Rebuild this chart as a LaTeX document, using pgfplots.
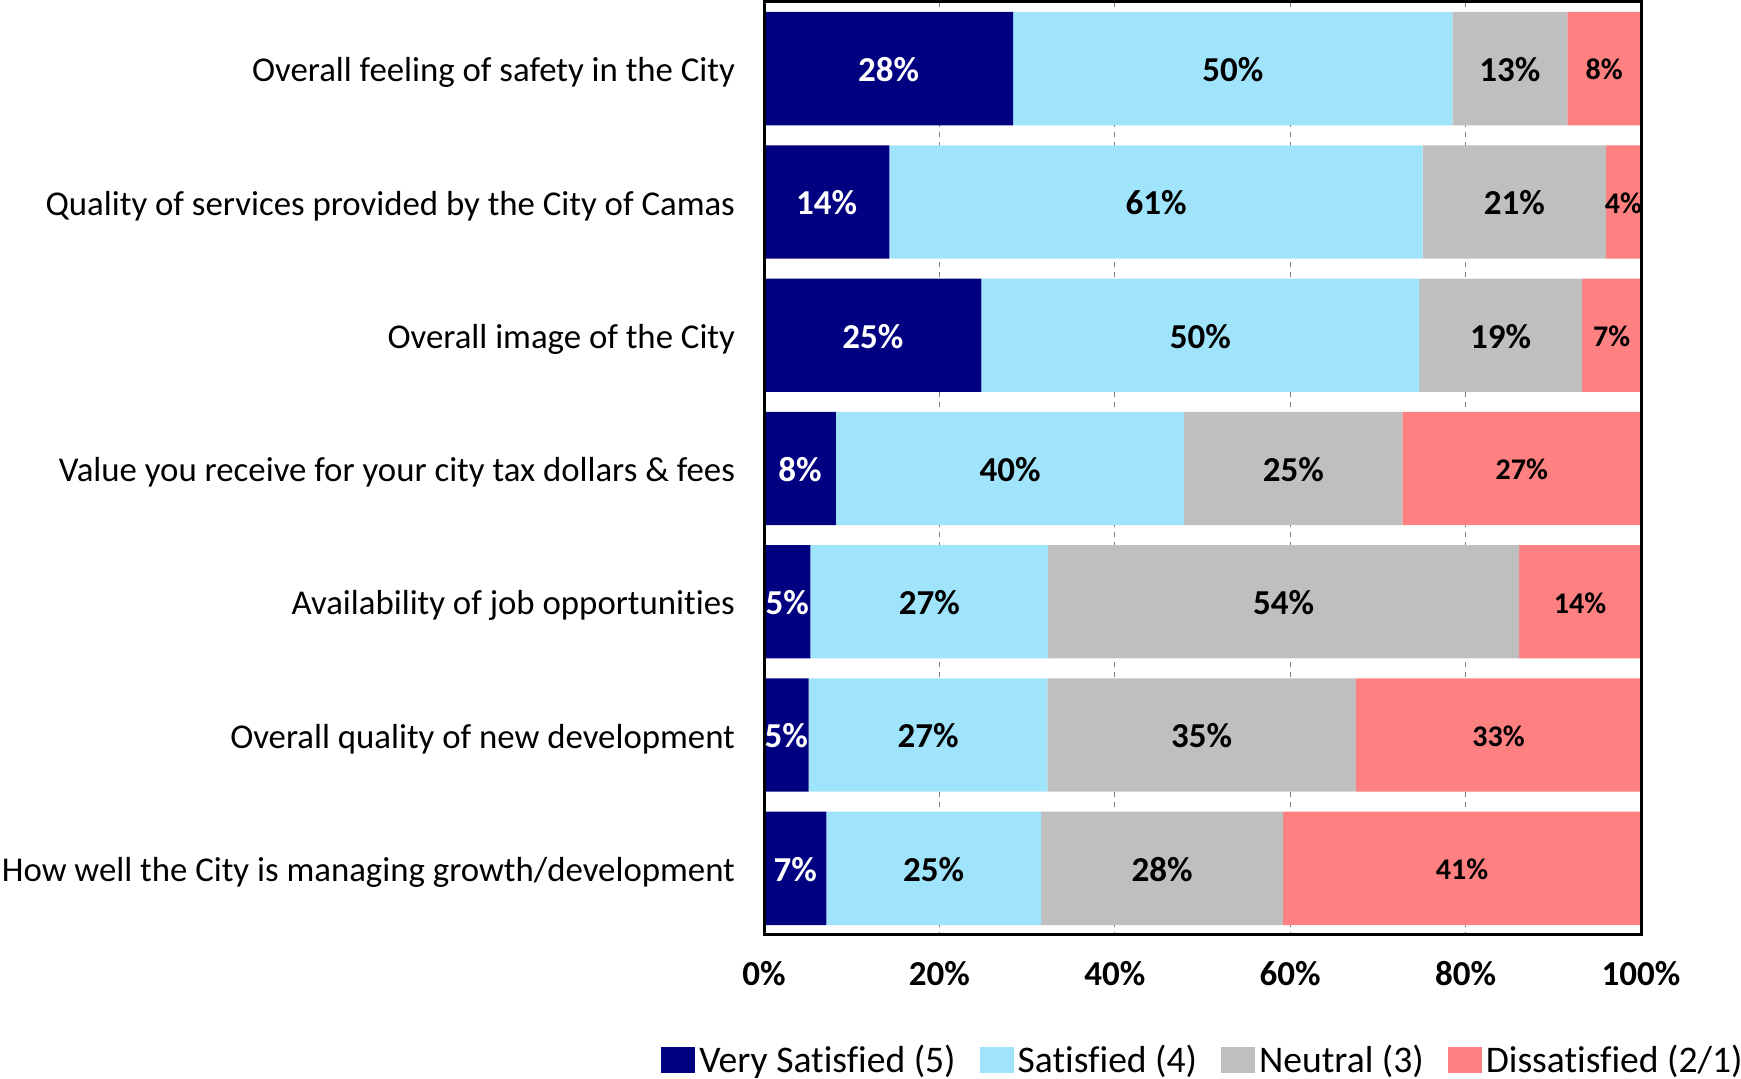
\documentclass[border=0pt]{standalone}
\usepackage{pgfplots}
\pgfplotsset{compat=1.18}
\usepackage{fontspec}
\setmainfont{Carlito}[Ligatures=NoCommon]
\definecolor{vsat}{HTML}{000080}
\definecolor{sat}{HTML}{A0E4FC}
\definecolor{neu}{HTML}{BFBFBF}
\definecolor{dis}{HTML}{FF8080}
\begin{document}
\begin{tikzpicture}[x=1pt,y=1pt]
\path[use as bounding box] (0,0) rectangle (870.5,539.5);
\pgfplotsset{base/.style={
  scale only axis, width=438.5pt, height=466.5pt,
  at={(382pt,72pt)}, anchor=south west,
  xmin=0, xmax=100, ymin=-0.5, ymax=6.5, y dir=reverse,
}}
\begin{axis}[base,
  xbar stacked, bar width=0.85,
  axis line style={draw=none},
  xtick={0,20,40,60,80,100},
  xticklabels={0\%,20\%,40\%,60\%,80\%,100\%},
  xticklabel style={font=\bfseries\fontsize{17.5}{20}\selectfont, yshift=-9.5pt},
  ytick={0,1,2,3,4,5,6},
  yticklabels={Overall feeling of safety in the City,
    Quality of services provided by the City of Camas,
    Overall image of the City,
    Value you receive for your city tax dollars \& fees,
    Availability of job opportunities,
    Overall quality of new development,
    How well the City is managing growth/development},
  yticklabel style={font=\fontsize{17.4}{20}\selectfont, xshift=-11pt, yshift=-2pt},
  major tick length=0pt,
  xmajorgrids, major grid style={gray, line width=0.6pt, dash pattern=on 2.5pt off 2.5pt},
  legend style={at={(1.121,-0.134)}, anchor=east, draw=none, inner sep=0pt,
    legend columns=-1, font=\fontsize{18.8}{20}\selectfont,
    /tikz/every even column/.append style={column sep=10pt}},
  legend image code/.code={\fill[#1] (0pt,-6.5pt) rectangle (17pt,6.5pt);},
]
\addplot[fill=vsat, draw=none] coordinates {(28.4,0) (14.3,1) (24.8,2) (8.2,3) (5.3,4) (5.1,5) (7.1,6)};
\addlegendentry{Very Satisfied (5)}
\addplot[fill=sat, draw=none] coordinates {(50.1,0) (60.8,1) (49.9,2) (39.7,3) (27.1,4) (27.2,5) (24.5,6)};
\addlegendentry{Satisfied (4)}
\addplot[fill=neu, draw=none] coordinates {(13.1,0) (20.9,1) (18.6,2) (24.9,3) (53.7,4) (35.2,5) (27.6,6)};
\addlegendentry{Neutral (3)}
\addplot[fill=dis, draw=none] coordinates {(8.4,0) (4.0,1) (6.7,2) (27.2,3) (13.9,4) (32.5,5) (40.8,6)};
\addlegendentry{Dissatisfied (2/1)}
\end{axis}
\begin{axis}[base,
  axis line style={line width=1.5pt, black},
  xtick=\empty, ytick=\empty,
  clip=false,
]
\addplot[only marks, mark=*, mark size=0pt, mark options={draw=none, fill=none},
  nodes near coords, point meta=explicit symbolic,
  nodes near coords style={text=white, anchor=center, yshift=-0.5pt, font=\bfseries\fontsize{17.5}{20}\selectfont}]
  coordinates {(14.2,0)[28\%] (7.15,1)[14\%] (12.4,2)[25\%] (4.1,3)[8\%] (2.65,4)[5\%] (2.55,5)[5\%] (3.55,6)[7\%]};
\addplot[only marks, mark=*, mark size=0pt, mark options={draw=none, fill=none},
  nodes near coords, point meta=explicit symbolic,
  nodes near coords style={text=black, anchor=center, yshift=-0.5pt, font=\bfseries\fontsize{17.5}{20}\selectfont}]
  coordinates {(53.45,0)[50\%] (44.7,1)[61\%] (49.75,2)[50\%] (28.05,3)[40\%] (18.85,4)[27\%] (18.7,5)[27\%] (19.35,6)[25\%]
               (85.05,0)[13\%] (85.55,1)[21\%] (84.0,2)[19\%] (60.35,3)[25\%] (59.25,4)[54\%] (49.9,5)[35\%] (45.4,6)[28\%]};
\addplot[only marks, mark=*, mark size=0pt, mark options={draw=none, fill=none},
  nodes near coords, point meta=explicit symbolic,
  nodes near coords style={text=black, anchor=center, yshift=-0.5pt, font=\bfseries\fontsize{15}{17}\selectfont}]
  coordinates {(95.8,0)[8\%] (98.0,1)[4\%] (96.65,2)[7\%] (86.4,3)[27\%] (93.05,4)[14\%] (83.75,5)[33\%] (79.6,6)[41\%]};
\end{axis}
\end{tikzpicture}
\end{document}
